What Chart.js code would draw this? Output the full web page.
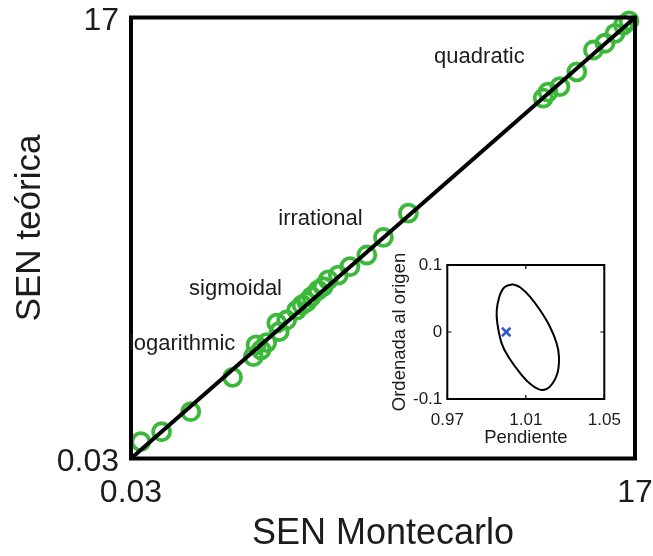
<!DOCTYPE html>
<html>
<head>
<meta charset="utf-8">
<script src="https://cdn.jsdelivr.net/npm/chart.js@4/dist/chart.umd.min.js"></script>
<style>
  html, body { margin: 0; padding: 0; background: #ffffff; }
  #wrap { position: relative; width: 653px; height: 556px; overflow: hidden; }
  #main { position: absolute; left: 0; top: 0; }
  #inset { position: absolute; left: 380px; top: 245px; }
</style>
</head>
<body>
<div id="wrap">
  <canvas id="main" width="653" height="556"></canvas>
  <canvas id="inset" width="250" height="210"></canvas>
</div>
<script>
// SEN estimated by Monte Carlo vs. theoretical SEN, one point per test function
const senMontecarlo = [0.36, 1.06, 2.04, 3.45, 4.15, 4.24, 4.41, 4.60, 4.94, 5.02, 5.27, 5.61, 5.79, 5.95, 6.11, 6.33, 6.50, 6.67, 7.01, 7.40, 7.97, 8.53, 9.37, 13.91, 14.07, 14.47, 15.04, 15.60, 15.99, 16.33, 16.61, 16.80];
const senTeorica    = [0.68, 1.06, 1.83, 3.15, 3.95, 4.40, 4.21, 4.49, 5.24, 4.91, 5.36, 5.74, 5.94, 6.06, 6.26, 6.51, 6.64, 6.90, 7.09, 7.41, 7.86, 8.54, 9.47, 13.90, 14.13, 14.34, 14.91, 15.75, 16.01, 16.39, 16.71, 16.87];

// identity line y = x over the axis range
const identityLine = [0.03, 17];

const axisTicks = [0.03, 17];
const axisTickLabels = ['0.03', '17'];

const familyNames = ['logarithmic', 'sigmoidal', 'irrational', 'quadratic'];

// inset: confidence ellipse of the regression (slope vs. intercept)
const ellipsePendiente = [1.0036, 1.0071, 1.0121, 1.0172, 1.0223, 1.0257, 1.0269, 1.0261, 1.0223, 1.0181, 1.0130, 1.0079, 1.0011, 0.9977, 0.9955, 0.9952, 0.9965, 0.9982, 1.0003, 1.0036];
const ellipseOrdenada  = [0.0712, 0.0667, 0.0527, 0.0328, 0.0079, -0.0169, -0.0369, -0.0616, -0.0816, -0.0866, -0.0791, -0.0642, -0.0369, -0.0169, 0.0130, 0.0328, 0.0527, 0.0637, 0.0687, 0.0712];
const idealPendiente = [1.0];
const idealOrdenada  = [0];
const pendienteTicks = [0.97, 1.01, 1.05];
const pendienteTickLabels = ['0.97', '1.01', '1.05'];
const ordenadaTicks = [-0.1, 0, 0.1];
const ordenadaTickLabels = ['-0.1', '0', '0.1'];

const FONT = '"Liberation Sans", Arial, Helvetica, sans-serif';
const INK = '#1c1c1c';
Chart.defaults.font.family = FONT;
Chart.defaults.color = INK;

// where each family name sits, in data units
const familyAnchors = {
  logarithmic: [1.75, 4.45],
  sigmoidal: [3.55, 6.55],
  irrational: [6.41, 9.25],
  quadratic: [11.76, 15.48]
};

// box around the plot area, with optional inward tick marks
function framePlugin(id, lineWidth, tickLen) {
  return {
    id: id,
    afterDatasetsDraw(chart) {
      const { ctx, chartArea: a, scales } = chart;
      ctx.save();
      ctx.strokeStyle = '#000';
      ctx.lineWidth = lineWidth;
      ctx.strokeRect(a.left, a.top, a.right - a.left, a.bottom - a.top);
      if (tickLen > 0) {
        ctx.lineWidth = 1.2;
        ctx.beginPath();
        scales.x.ticks.forEach(t => {
          const px = scales.x.getPixelForValue(t.value);
          ctx.moveTo(px, a.bottom); ctx.lineTo(px, a.bottom - tickLen);
          ctx.moveTo(px, a.top); ctx.lineTo(px, a.top + tickLen);
        });
        scales.y.ticks.forEach(t => {
          const py = scales.y.getPixelForValue(t.value);
          ctx.moveTo(a.left, py); ctx.lineTo(a.left + tickLen, py);
          ctx.moveTo(a.right, py); ctx.lineTo(a.right - tickLen, py);
        });
        ctx.stroke();
      }
      ctx.restore();
    }
  };
}

const familyLabelPlugin = {
  id: 'familyLabels',
  afterDatasetsDraw(chart) {
    const { ctx, scales } = chart;
    ctx.save();
    ctx.font = '22px ' + FONT;
    ctx.fillStyle = INK;
    ctx.textAlign = 'center';
    ctx.textBaseline = 'middle';
    familyNames.forEach(name => {
      const [vx, vy] = familyAnchors[name];
      ctx.fillText(name, scales.x.getPixelForValue(vx), scales.y.getPixelForValue(vy));
    });
    ctx.restore();
  }
};

const yTitlePlugin = {
  id: 'yTitle',
  afterDraw(chart) {
    const { ctx } = chart;
    ctx.save();
    ctx.font = '35px ' + FONT;
    ctx.fillStyle = INK;
    ctx.textAlign = 'center';
    ctx.textBaseline = 'middle';
    ctx.translate(30, 228);
    ctx.rotate(-Math.PI / 2);
    ctx.fillText('SEN teórica', 0, 0);
    ctx.restore();
  }
};

function fixedTicks(values) {
  return scale => { scale.ticks = values.map(v => ({ value: v })); };
}

// fixed axis box sizes; edge labels may overhang the plot area freely
function fitX(height) {
  return s => { s.height = height; s.paddingLeft = 0; s.paddingRight = 0; };
}
function fitY(width) {
  return s => { s.width = width; s.paddingTop = 0; s.paddingBottom = 0; };
}

new Chart(document.getElementById('main'), {
  type: 'scatter',
  data: {
    datasets: [
      {
        type: 'line',
        data: identityLine.map(v => ({ x: v, y: v })),
        borderColor: '#000',
        borderWidth: 4,
        pointRadius: 0,
        order: 0,
        clip: false
      },
      {
        data: senMontecarlo.map((x, i) => ({ x: x, y: senTeorica[i] })),
        pointRadius: 8.5,
        pointBorderWidth: 3.8,
        pointBorderColor: '#3cb83a',
        pointBackgroundColor: 'rgba(0,0,0,0)',
        order: 1,
        clip: false
      }
    ]
  },
  options: {
    responsive: false,
    animation: false,
    devicePixelRatio: 1,
    layout: { padding: { top: 17.5, right: 18, left: 0, bottom: 0 } },
    plugins: { legend: { display: false }, tooltip: { enabled: false } },
    scales: {
      x: {
        type: 'linear',
        min: axisTicks[0],
        max: axisTicks[1],
        afterBuildTicks: fixedTicks(axisTicks),
        afterFit: fitX(97.5),
        ticks: {
          callback: (v, i) => axisTickLabels[i],
          font: { size: 32, lineHeight: 1 },
          color: INK,
          padding: 19,
          maxRotation: 0,
          autoSkip: false
        },
        grid: { display: false, drawTicks: false },
        border: { display: false },
        title: {
          display: true,
          text: 'SEN Montecarlo',
          font: { size: 36 },
          color: INK,
          padding: { top: 0, bottom: 0 }
        }
      },
      y: {
        type: 'linear',
        min: axisTicks[0],
        max: axisTicks[1],
        afterBuildTicks: fixedTicks(axisTicks),
        afterFit: fitY(131),
        ticks: {
          callback: (v, i) => axisTickLabels[i],
          font: { size: 32, lineHeight: 1 },
          color: INK,
          padding: 12,
          labelOffset: 4,
          autoSkip: false
        },
        grid: { display: false, drawTicks: false },
        border: { display: false }
      }
    }
  },
  plugins: [framePlugin('mainFrame', 4, 0), familyLabelPlugin, yTitlePlugin]
});

new Chart(document.getElementById('inset'), {
  type: 'scatter',
  data: {
    datasets: [
      {
        type: 'line',
        data: ellipsePendiente.map((x, i) => ({ x: x, y: ellipseOrdenada[i] })),
        borderColor: '#000',
        borderWidth: 2,
        pointRadius: 0,
        tension: 0.4,
        order: 1
      },
      {
        data: idealPendiente.map((x, i) => ({ x: x, y: idealOrdenada[i] })),
        pointStyle: 'crossRot',
        pointRadius: 6,
        pointBorderWidth: 2.5,
        pointBorderColor: '#2e5cc8',
        order: 0
      }
    ]
  },
  options: {
    responsive: false,
    animation: false,
    devicePixelRatio: 1,
    layout: { padding: { top: 20, right: 25.7, left: 0, bottom: 0 } },
    plugins: { legend: { display: false }, tooltip: { enabled: false } },
    scales: {
      x: {
        type: 'linear',
        min: pendienteTicks[0],
        max: pendienteTicks[2],
        afterBuildTicks: fixedTicks(pendienteTicks),
        afterFit: fitX(56),
        ticks: {
          callback: (v, i) => pendienteTickLabels[i],
          font: { size: 17, lineHeight: 1 },
          color: INK,
          padding: 13,
          maxRotation: 0,
          autoSkip: false
        },
        grid: { display: false, drawTicks: false },
        border: { display: false },
        title: {
          display: true,
          text: 'Pendiente',
          font: { size: 18.5 },
          color: INK,
          padding: { top: 0, bottom: 6 }
        }
      },
      y: {
        type: 'linear',
        min: ordenadaTicks[0],
        max: ordenadaTicks[2],
        afterBuildTicks: fixedTicks(ordenadaTicks),
        afterFit: fitY(67.3),
        ticks: {
          callback: (v, i) => ordenadaTickLabels[i],
          font: { size: 17, lineHeight: 1 },
          color: INK,
          padding: 5,
          autoSkip: false
        },
        grid: { display: false, drawTicks: false },
        border: { display: false },
        title: {
          display: true,
          text: 'Ordenada al origen',
          font: { size: 18.5 },
          color: INK,
          padding: { top: 9, bottom: 0 }
        }
      }
    }
  },
  plugins: [framePlugin('insetFrame', 2, 4)]
});
</script>
</body>
</html>
